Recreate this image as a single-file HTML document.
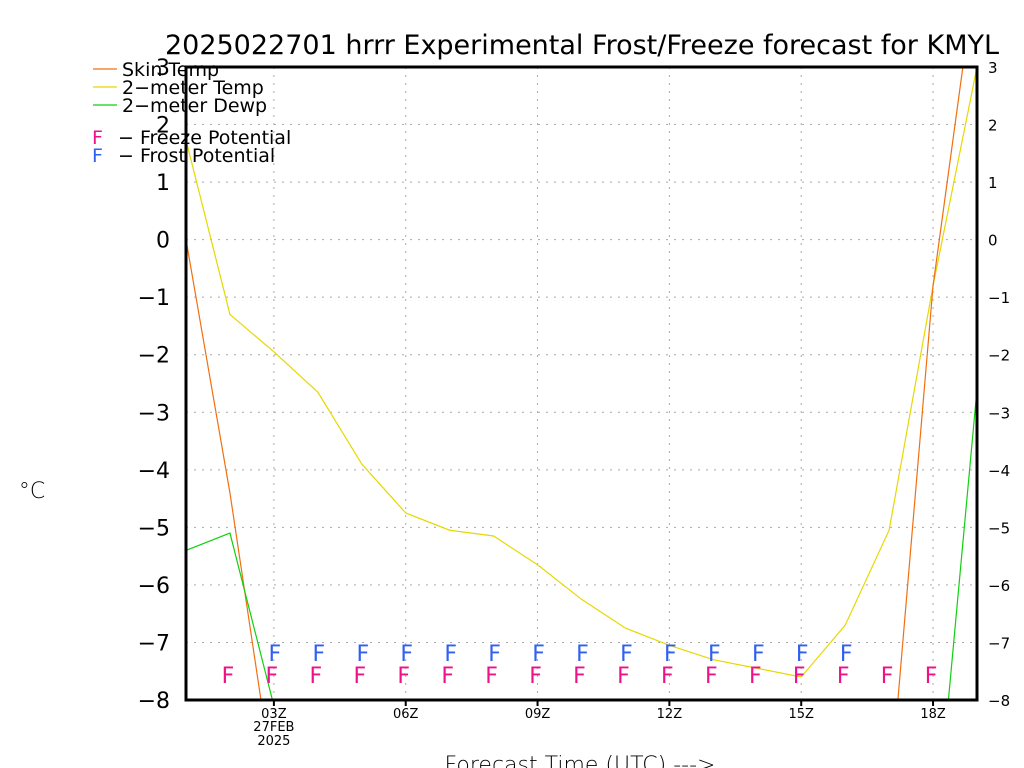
<!DOCTYPE html>
<html><head><meta charset="utf-8"><style>
body{margin:0;background:#fff;width:1024px;height:768px;overflow:hidden}
svg text{font-family:"DejaVu Sans","Liberation Sans",sans-serif}
</style></head><body>
<svg id="c" width="1024" height="768" xmlns="http://www.w3.org/2000/svg" style="display:block;overflow:hidden"></svg>
<script>
const hours=[1,2,3,4,5,6,7,8,9,10,11,12,13,14,15,16,17,18,19];
const skinTemp=[0,-4.4,-9.5,null,null,null,null,null,null,null,null,null,null,null,null,null,-9.8,-0.8,4.8];
const airTemp=[1.73,-1.3,-1.95,-2.65,-3.9,-4.75,-5.05,-5.15,-5.65,-6.25,-6.75,-7.05,-7.3,-7.45,-7.6,-6.7,-5.05,-0.8,3.0];
const dewTemp=[-5.4,-5.1,-8.1,null,null,null,null,null,null,null,null,null,null,null,null,null,null,-10.9,-2.6];
const freezeHours=[2,3,4,5,6,7,8,9,10,11,12,13,14,15,16,17,18];
const frostHours=[3,4,5,6,7,8,9,10,11,12,13,14,15,16];
const yTicks=[3,2,1,0,-1,-2,-3,-4,-5,-6,-7,-8];
const xTickHours=[3,6,9,12,15,18];
const xTickLabels=["03Z","06Z","09Z","12Z","15Z","18Z"];
const L=186,R=977,T=67,B=700;
const X=h=>L+(h-1)*(R-L)/18, Y=v=>T+(3-v)*(B-T)/11;
const svg=document.getElementById('c');const NS='http://www.w3.org/2000/svg';
function mk(t,a,p){const e=document.createElementNS(NS,t);for(const k in a)e.setAttribute(k,a[k]);(p||svg).appendChild(e);return e;}
function txt(s,x,y,size,anchor,fill,name){const e=mk('text',{x:x,y:y,'font-size':size,'text-anchor':anchor||'start',fill:fill||'#000'});e.textContent=s;

return e;}
const defs=mk('defs',{});const cp=mk('clipPath',{id:'pc'},defs);mk('rect',{x:L,y:T,width:R-L,height:B-T},cp);
yTicks.forEach(v=>{const g=mk('line',{x1:L,x2:R,y1:Y(v),y2:Y(v),stroke:'#aaa','stroke-dasharray':'2,6'});


txt(String(v).replace('-','−'),170,Y(v)+8,22,'end','#000','y-tick-left');
txt(String(v).replace('-','−'),988,Y(v)+6,15,'start','#000','y-tick-right');});
xTickHours.forEach((h,i)=>{const g=mk('line',{x1:X(h),x2:X(h),y1:T,y2:B,stroke:'#aaa','stroke-dasharray':'2,6'});


mk('line',{x1:X(h),x2:X(h),y1:B,y2:B+6,stroke:'#000','stroke-width':2});
txt(xTickLabels[i],X(h),B+18,13,'middle','#000','x-tick-label');});
txt('27FEB',X(3),B+31,13,'middle','#000','date-label');
txt('2025',X(3),B+45,13,'middle','#000','year-label');
function series(vals,color,name){let d='',pen=false;vals.forEach((v,i)=>{if(v===null){pen=false;return;}d+=(pen?'L':'M')+X(hours[i])+','+Y(v);pen=true;});
const p=mk('path',{d:d,fill:'none',stroke:color,'stroke-width':1.2,'clip-path':'url(#pc)'});

}
series(airTemp,'#e6d800','air-temp-line');
series(skinTemp,'#f07010','skin-temp-line');
series(dewTemp,'#10d010','dewpoint-line');
freezeHours.forEach(h=>{txt('F',X(h)-2,Y(-7.55)+9,22,'middle','#f0108a','freeze-marker');});
frostHours.forEach(h=>{txt('F',X(h)+1,Y(-7.17)+9,22,'middle','#3060f0','frost-marker');});
const fr=mk('rect',{x:L,y:T,width:R-L,height:B-T,fill:'none',stroke:'#000','stroke-width':3});


txt('2025022701 hrrr Experimental Frost/Freeze forecast for KMYL',582,54,27,'middle','#000','chart-title');
const yt=txt('°C',32,498,22,'middle','#000','y-axis-title');yt.setAttribute('font-weight','300');
const xt=txt('Forecast Time (UTC) --->',580,772,22,'middle','#000','x-axis-title');xt.setAttribute('font-weight','300');
[['Skin Temp','#f07010',76],['2−meter Temp','#e6d800',94],['2−meter Dewp','#10d010',112]].forEach(e=>{
mk('line',{x1:93,x2:117,y1:e[2]-7,y2:e[2]-7,stroke:e[1],'stroke-width':1.2});
txt(e[0],122,e[2],19,'start','#000','legend-entry');});
txt('F',92,144,19,'start','#f0108a','legend-freeze-f');txt('−  Freeze Potential',118,144,19,'start','#000','legend-freeze');
txt('F',92,162,19,'start','#3060f0','legend-frost-f');txt('−  Frost Potential',118,162,19,'start','#000','legend-frost');
</script>
</body></html>
